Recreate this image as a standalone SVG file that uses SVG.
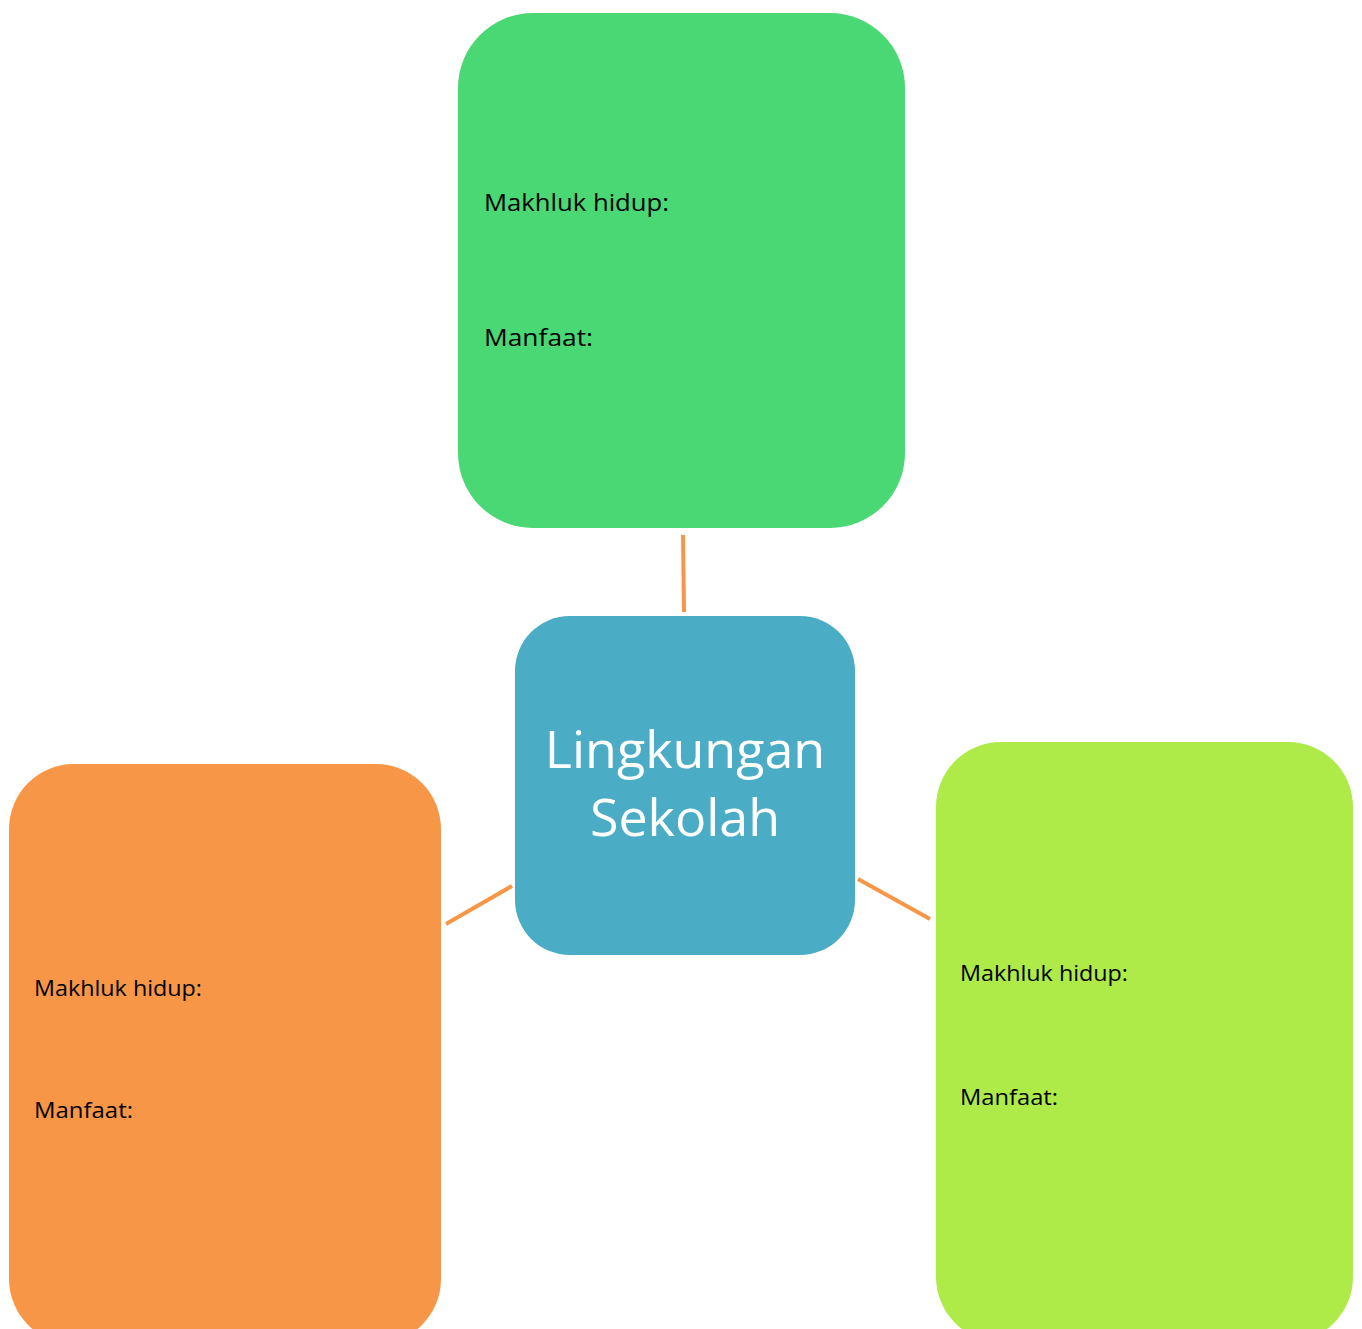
<svg xmlns="http://www.w3.org/2000/svg" width="1362" height="1329" viewBox="0 0 1362 1329">
<style>
.lbl{font-family:"Open Sans","Liberation Sans",sans-serif;fill:#000}
.big{font-size:24px}
.sm{font-size:22px}
.title{font-family:"Open Sans","Liberation Sans",sans-serif;font-size:52px;fill:#fff;text-anchor:middle}
.conn{stroke:#F79646;stroke-width:4;fill:none}
</style>
<rect width="1362" height="1329" fill="#fff"/>
<g id="connectors">
<line class="conn" x1="683" y1="535" x2="684" y2="612"/>
<line class="conn" x1="446" y1="924" x2="512" y2="886"/>
<line class="conn" x1="858" y1="879" x2="930" y2="919"/>
</g>
<g id="node-top">
<rect x="458" y="13" width="447" height="515" rx="75" ry="75" fill="#4AD874"/>
<text class="lbl big" x="484" y="211" textLength="185" lengthAdjust="spacingAndGlyphs">Makhluk hidup:</text>
<text class="lbl big" x="484" y="346" textLength="109" lengthAdjust="spacingAndGlyphs">Manfaat:</text>
</g>
<g id="node-center">
<rect x="515" y="616" width="340" height="339" rx="55" ry="55" fill="#4BACC6"/>
<text class="title" x="685" y="768">Lingkungan</text>
<text class="title" x="685" y="836">Sekolah</text>
</g>
<g id="node-left">
<rect x="9" y="764" width="432" height="580" rx="65" ry="65" fill="#F79646"/>
<text class="lbl sm" x="34" y="996" textLength="168" lengthAdjust="spacingAndGlyphs">Makhluk hidup:</text>
<text class="lbl sm" x="34" y="1118" textLength="99" lengthAdjust="spacingAndGlyphs">Manfaat:</text>
</g>
<g id="node-right">
<rect x="936" y="742" width="417" height="600" rx="65" ry="65" fill="#AEEA48"/>
<text class="lbl sm" x="960" y="981" textLength="168" lengthAdjust="spacingAndGlyphs">Makhluk hidup:</text>
<text class="lbl sm" x="960" y="1105" textLength="98" lengthAdjust="spacingAndGlyphs">Manfaat:</text>
</g>
</svg>
